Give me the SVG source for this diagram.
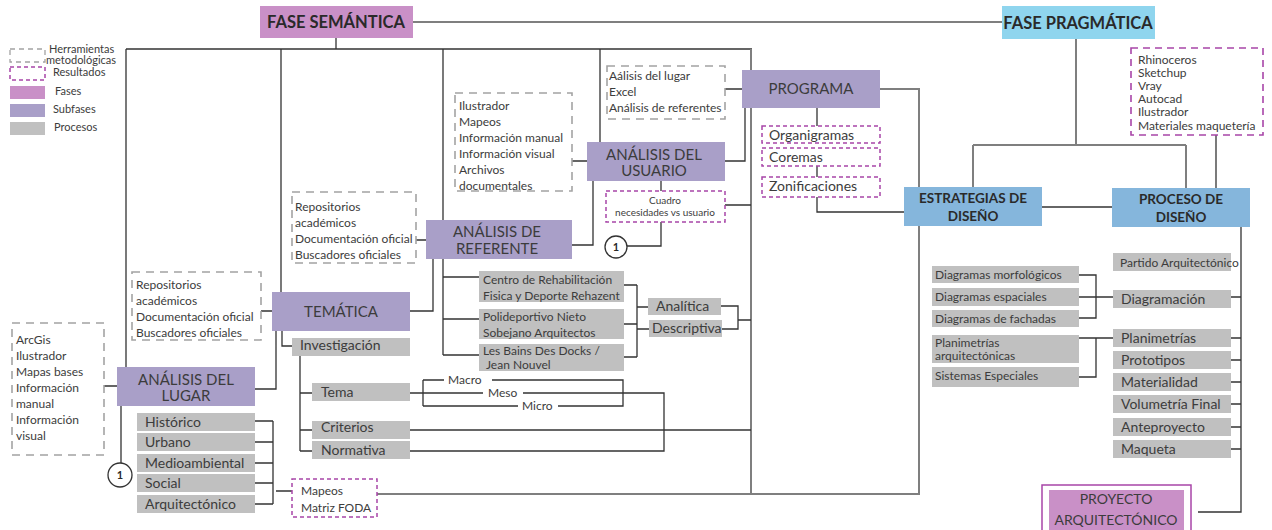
<svg xmlns="http://www.w3.org/2000/svg" width="1272" height="530" viewBox="0 0 1272 530">
<style>
text{font-family:Lato,"Open Sans","Liberation Sans",sans-serif;fill:#3c3c3c}
.fase{fill:#c990c7}
.prag{fill:#8fd5ee}
.sub{fill:#a99fc8}
.blue{fill:#85b6dc}
.proc{fill:#c0c0c0}
.tool{fill:none;stroke:#a3a3a3;stroke-width:1.6;stroke-dasharray:8 6}
.res{fill:none;stroke:#a845a8;stroke-width:1.5;stroke-dasharray:4 3}
.ln{fill:none;stroke:#333;stroke-width:1.3}
.lg{fill:none;stroke:#7f7f7f;stroke-width:2}
.t12{font-size:12px}
.t11{font-size:11px}
.t14{font-size:14px}
.t15{font-size:15px}
.b{font-weight:bold;fill:#2a2a2a}
.c{text-anchor:middle}
</style>

<g id="connectors">
  <path class="lg" d="M413 22H1033"/>
  <path class="ln" d="M336 38V49M126 49H752M126 49V367M281 49V292M443 49V355M600 49V142"/>
  <path class="lg" d="M751 49V494"/>
  <path class="lg" d="M880 89H919V494H377"/>
  <path class="lg" d="M1076 39V145M973 145H1186M973 145V187M1186 145V188"/>
  <path class="ln" d="M1216 135V188"/>
  <path class="ln" d="M1042 207H1112"/>
  <path class="ln" d="M1241 227V512H1198"/>
  <path class="ln" d="M1231 297H1241M1231 338H1241M1231 360H1241M1231 382H1241M1231 404H1241M1231 427H1241M1231 449H1241"/>
  <path class="ln" d="M1079 275H1096V318H1079M1079 297H1113M1079 338H1113M1096 338V377H1079"/>
  <path class="ln" d="M817 108V126M817 166V177M817 197V212H904"/>
  <path class="ln" d="M725 89H742M725 161H745V108"/>
  <path class="ln" d="M572 161H587M661 181V191M661 222V246H627M725 205H751"/>
  <path class="ln" d="M572 245H593V181"/>
  <path class="ln" d="M416 240H426M410 311H433V259"/>
  <path class="ln" d="M261 311H272M255 389H276V331M282 331V346H292"/>
  <path class="ln" d="M104 386H117M121 406V463"/>
  <path class="ln" d="M443 277H479M443 319H479M443 355H479"/>
  <path class="ln" d="M624 285H637M624 324H637M624 357H637M637 285V357M637 307H648M637 329H649"/>
  <path class="ln" d="M721 306H738V329H712M738 320H751"/>
  <path class="ln" d="M300 356V451M300 393H312M300 430H312M300 451H312"/>
  <path class="ln" d="M410 393H483M523 393H664V451H410M423 380V406M423 380H444M492 380H623V406H558M423 406H518"/>
  <path class="ln" d="M410 430H751"/>
  <path class="ln" d="M255 421H273M255 442H273M255 463H273M255 483H273M255 504H273M273 421V504M276 491H292"/>
</g>

<g id="legend">
  <rect class="tool" x="10" y="49" width="35" height="13" style="stroke-dasharray:5 4;stroke-width:1.3"/>
  <text class="t11" x="49" y="53">Herramientas</text>
  <text class="t11" x="46" y="64">metodológicas</text>
  <rect class="res" x="10" y="67" width="35" height="13"/>
  <text class="t11" x="53" y="76">Resultados</text>
  <rect class="fase" x="10" y="86" width="35" height="13"/>
  <text class="t11" x="55" y="95">Fases</text>
  <rect class="sub" x="10" y="104" width="35" height="13"/>
  <text class="t11" x="53" y="113">Subfases</text>
  <rect class="proc" x="10" y="122" width="35" height="13"/>
  <text class="t11" x="54" y="131">Procesos</text>
</g>

<g id="fase-semantica">
  <rect class="fase" x="260" y="6" width="153" height="32"/>
  <text class="b c" x="336" y="28" style="font-size:16.5px">FASE SEMÁNTICA</text>
</g>
<g id="fase-pragmatica">
  <rect class="prag" x="1002" y="6" width="153" height="33"/>
  <text class="b c" x="1078" y="29" style="font-size:16.5px">FASE PRAGMÁTICA</text>
</g>

<g id="herr-pragmatica">
  <rect class="res" x="1131" y="48" width="132" height="87" style="stroke-dasharray:7 5;stroke-width:1.6"/>
  <text class="t12" x="1138" y="64">Rhinoceros</text>
  <text class="t12" x="1138" y="77">Sketchup</text>
  <text class="t12" x="1138" y="90">Vray</text>
  <text class="t12" x="1138" y="103">Autocad</text>
  <text class="t12" x="1138" y="116">Ilustrador</text>
  <text class="t12" x="1138" y="130">Materiales maquetería</text>
</g>

<g id="estrategias">
  <rect class="blue" x="904" y="187" width="138" height="39"/>
  <text class="b c" x="973" y="203" style="font-size:13.5px">ESTRATEGIAS DE</text>
  <text class="b c" x="973" y="221" style="font-size:13.5px">DISEÑO</text>
</g>
<g id="proceso">
  <rect class="blue" x="1112" y="188" width="138" height="39"/>
  <text class="b c" x="1181" y="204" style="font-size:13.5px">PROCESO DE</text>
  <text class="b c" x="1181" y="222" style="font-size:13.5px">DISEÑO</text>
</g>

<g id="estrategias-items">
  <rect class="proc" x="932" y="266" width="147" height="17"/>
  <text class="t12" x="935" y="279">Diagramas morfológicos</text>
  <rect class="proc" x="932" y="288" width="147" height="18"/>
  <text class="t12" x="935" y="301">Diagramas espaciales</text>
  <rect class="proc" x="932" y="310" width="147" height="17"/>
  <text class="t12" x="935" y="323">Diagramas de fachadas</text>
  <rect class="proc" x="932" y="335" width="147" height="28"/>
  <text class="t12" x="935" y="347">Planimetrías</text>
  <text class="t12" x="935" y="360">arquitectónicas</text>
  <rect class="proc" x="932" y="367" width="147" height="20"/>
  <text class="t12" x="935" y="380">Sistemas Especiales</text>
</g>

<g id="proceso-items">
  <rect class="proc" x="1113" y="253" width="118" height="18"/>
  <text class="t12" x="1120" y="267">Partido Arquitectónico</text>
  <rect class="proc" x="1113" y="290" width="118" height="18"/>
  <text class="t14" x="1121" y="304">Diagramación</text>
  <rect class="proc" x="1113" y="329" width="118" height="18"/>
  <text class="t14" x="1121" y="343">Planimetrías</text>
  <rect class="proc" x="1113" y="351" width="118" height="18"/>
  <text class="t14" x="1121" y="365">Prototipos</text>
  <rect class="proc" x="1113" y="373" width="118" height="18"/>
  <text class="t14" x="1121" y="387">Materialidad</text>
  <rect class="proc" x="1113" y="395" width="118" height="18"/>
  <text class="t14" x="1121" y="409">Volumetría Final</text>
  <rect class="proc" x="1113" y="418" width="118" height="18"/>
  <text class="t14" x="1121" y="432">Anteproyecto</text>
  <rect class="proc" x="1113" y="440" width="118" height="18"/>
  <text class="t14" x="1121" y="454">Maqueta</text>
</g>

<g id="proyecto">
  <rect x="1042" y="485" width="149" height="50" fill="none" stroke="#a845a8" stroke-width="1.5"/>
  <rect class="fase" x="1049" y="490" width="135" height="45"/>
  <text class="t14 c" x="1116" y="504">PROYECTO</text>
  <text class="t14 c" x="1116" y="525">ARQUITECTÓNICO</text>
</g>

<g id="programa">
  <rect class="sub" x="742" y="70" width="138" height="38"/>
  <text class="t15 c" x="811" y="94">PROGRAMA</text>
</g>
<g id="programa-herr">
  <rect class="tool" x="607" y="66" width="118" height="53"/>
  <text class="t12" x="609" y="80">Aálisis del lugar</text>
  <text class="t12" x="609" y="96">Excel</text>
  <text class="t12" x="609" y="112">Análisis de referentes</text>
</g>
<g id="programa-res">
  <rect class="res" x="762" y="126" width="118" height="17"/>
  <text class="t14" x="769" y="140">Organigramas</text>
  <rect class="res" x="762" y="148" width="118" height="18"/>
  <text class="t14" x="769" y="162">Coremas</text>
  <rect class="res" x="762" y="177" width="118" height="20"/>
  <text class="t14" x="769" y="191">Zonificaciones</text>
</g>

<g id="usuario">
  <rect class="sub" x="587" y="142" width="138" height="39"/>
  <text class="t15 c" x="654" y="160">ANÁLISIS DEL</text>
  <text class="t15 c" x="654" y="176">USUARIO</text>
</g>
<g id="usuario-herr">
  <rect class="tool" x="455" y="93" width="117" height="98"/>
  <text class="t12" x="459" y="110">Ilustrador</text>
  <text class="t12" x="459" y="126">Mapeos</text>
  <text class="t12" x="459" y="142">Información manual</text>
  <text class="t12" x="459" y="158">Información visual</text>
  <text class="t12" x="459" y="174">Archivos</text>
  <text class="t12" x="459" y="190">documentales</text>
</g>
<g id="cuadro">
  <rect class="res" x="606" y="191" width="119" height="31"/>
  <text class="c" x="665" y="204" style="font-size:10px">Cuadro</text>
  <text class="c" x="665" y="216" style="font-size:10px">necesidades vs usuario</text>
</g>
<g id="circle-usuario">
  <circle cx="616" cy="247" r="11" fill="#fff" stroke="#333" stroke-width="1.3"/>
  <text class="b c" x="616" y="251" style="font-size:11px">1</text>
</g>

<g id="referente">
  <rect class="sub" x="426" y="220" width="146" height="39"/>
  <text class="t15 c" x="497" y="237">ANÁLISIS DE</text>
  <text class="t15 c" x="497" y="254">REFERENTE</text>
</g>
<g id="referente-herr">
  <rect class="tool" x="292" y="192" width="124" height="71"/>
  <text class="t12" x="295" y="211">Repositorios</text>
  <text class="t12" x="295" y="227">académicos</text>
  <text class="t12" x="295" y="243">Documentación oficial</text>
  <text class="t12" x="295" y="259">Buscadores oficiales</text>
</g>
<g id="referente-items">
  <rect class="proc" x="479" y="271" width="145" height="31"/>
  <text class="t12" x="483" y="284">Centro de Rehabilitación</text>
  <text class="t12" x="483" y="300">Fisica y Deporte Rehazent</text>
  <rect class="proc" x="479" y="309" width="145" height="30"/>
  <text class="t12" x="483" y="321">Polideportivo Nieto</text>
  <text class="t12" x="483" y="337">Sobejano Arquitectos</text>
  <rect class="proc" x="479" y="344" width="145" height="27"/>
  <text class="t12" x="483" y="355">Les Bains Des Docks /</text>
  <text class="t12" x="486" y="369">Jean Nouvel</text>
  <rect class="proc" x="648" y="298" width="73" height="17"/>
  <text class="t14" x="656" y="311">Analítica</text>
  <rect class="proc" x="649" y="320" width="73" height="17"/>
  <text class="t14" x="652" y="333">Descriptiva</text>
</g>

<g id="tematica">
  <rect class="sub" x="272" y="292" width="138" height="39"/>
  <text class="t15 c" x="341" y="317">TEMÁTICA</text>
</g>
<g id="tematica-herr">
  <rect class="tool" x="132" y="272" width="129" height="68"/>
  <text class="t12" x="136" y="289">Repositorios</text>
  <text class="t12" x="136" y="305">académicos</text>
  <text class="t12" x="136" y="321">Documentación oficial</text>
  <text class="t12" x="136" y="337">Buscadores oficiales</text>
</g>
<g id="tematica-items">
  <rect class="proc" x="292" y="338" width="118" height="18"/>
  <text class="t14" x="300" y="350">Investigación</text>
  <rect class="proc" x="312" y="383" width="98" height="18"/>
  <text class="t14" x="321" y="397">Tema</text>
  <rect class="proc" x="312" y="421" width="98" height="18"/>
  <text class="t14" x="321" y="432">Criterios</text>
  <rect class="proc" x="312" y="441" width="98" height="18"/>
  <text class="t14" x="321" y="455">Normativa</text>
  <text class="t12" x="448" y="384">Macro</text>
  <text class="t12" x="488" y="397">Meso</text>
  <text class="t12" x="522" y="410">Micro</text>
</g>

<g id="lugar">
  <rect class="sub" x="117" y="367" width="138" height="39"/>
  <text class="t15 c" x="186" y="385">ANÁLISIS DEL</text>
  <text class="t15 c" x="186" y="401">LUGAR</text>
</g>
<g id="lugar-herr">
  <rect class="tool" x="12" y="323" width="92" height="132"/>
  <text class="t12" x="16" y="344">ArcGis</text>
  <text class="t12" x="16" y="360">Ilustrador</text>
  <text class="t12" x="16" y="376">Mapas bases</text>
  <text class="t12" x="16" y="392">Información</text>
  <text class="t12" x="16" y="408">manual</text>
  <text class="t12" x="16" y="424">Información</text>
  <text class="t12" x="16" y="440">visual</text>
</g>
<g id="circle-lugar">
  <circle cx="120" cy="475" r="12" fill="#fff" stroke="#333" stroke-width="1.3"/>
  <text class="b c" x="120" y="479" style="font-size:11px">1</text>
</g>
<g id="lugar-items">
  <rect class="proc" x="137" y="413" width="118" height="18"/>
  <text class="t14" x="145" y="427">Histórico</text>
  <rect class="proc" x="137" y="433" width="118" height="18"/>
  <text class="t14" x="145" y="447">Urbano</text>
  <rect class="proc" x="137" y="454" width="118" height="18"/>
  <text class="t14" x="145" y="468">Medioambiental</text>
  <rect class="proc" x="137" y="474" width="118" height="18"/>
  <text class="t14" x="145" y="488">Social</text>
  <rect class="proc" x="137" y="495" width="118" height="18"/>
  <text class="t14" x="145" y="509">Arquitectónico</text>
</g>
<g id="lugar-res">
  <rect class="res" x="292" y="479" width="85" height="38"/>
  <text class="t12" x="301" y="495">Mapeos</text>
  <text class="t12" x="301" y="512">Matriz FODA</text>
</g>
</svg>
